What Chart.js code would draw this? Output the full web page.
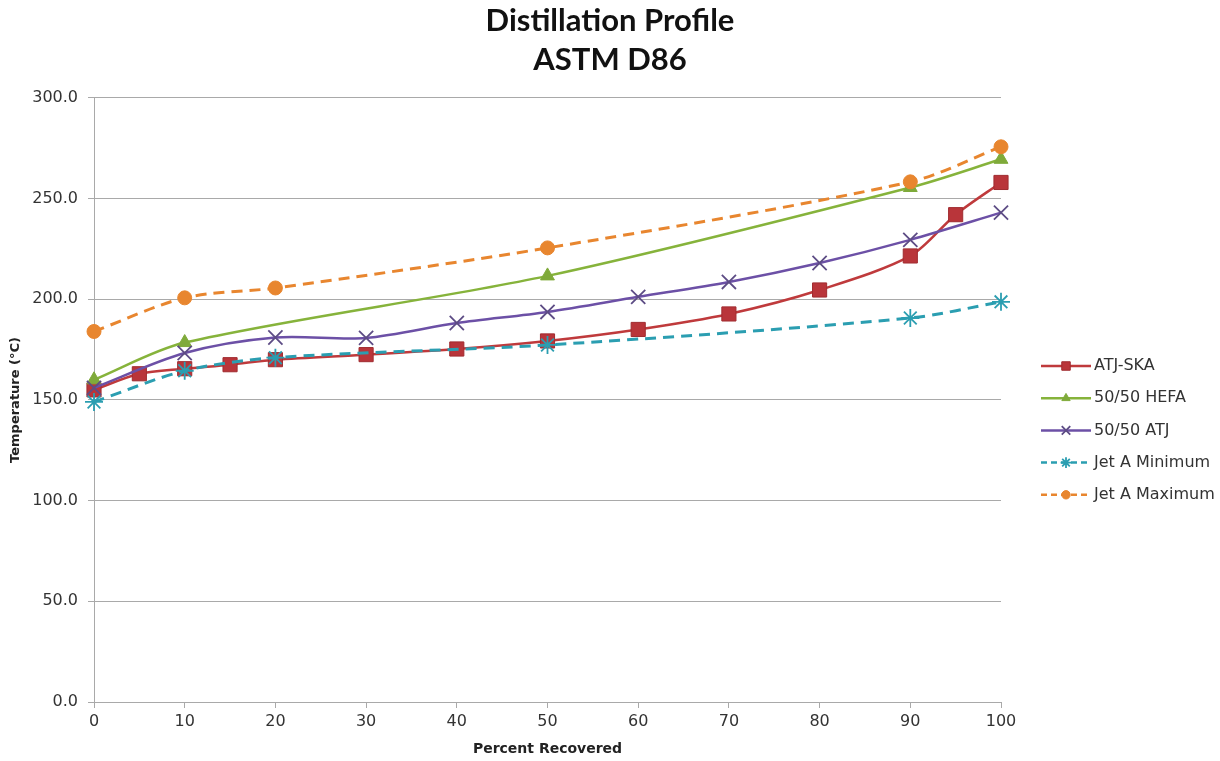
<!DOCTYPE html>
<html>
<head>
<meta charset="utf-8">
<script src="https://cdn.jsdelivr.net/npm/chart.js@4.4.1/dist/chart.umd.min.js"></script>
<style>
  html, body { margin: 0; padding: 0; background: #ffffff; }
  #wrap { width: 1220px; height: 761px; position: relative; }
</style>
</head>
<body>
<div id="wrap"><canvas id="c" width="1220" height="761"></canvas></div>
<script>
// Percent recovered (x) and temperature in °C (y) for each fuel
const pctSka   = [0, 5, 10, 15, 20, 30, 40, 50, 60, 70, 80, 90, 95, 100];
const tempSka  = [155, 163, 165.5, 167.5, 170, 172.5, 175.3, 179.3, 185, 192.7, 204.6, 221.5, 242, 258];

const pctHefa  = [0, 10, 50, 90, 100];
const tempHefa = [160, 178.5, 211.6, 255.5, 269.5];

const pctAtj   = [0, 10, 20, 30, 40, 50, 60, 70, 80, 90, 100];
const tempAtj  = [156, 173.3, 181, 180.8, 188.2, 193.7, 201.2, 208.6, 218, 229.5, 243];

const pctJet   = [0, 10, 20, 50, 90, 100];
const jetMin   = [149, 164.5, 171, 177.3, 190.7, 198.7];
const jetMax   = [184, 200.7, 205.6, 225.5, 258.3, 275.7];

const seriesNames = ['ATJ-SKA', '50/50 HEFA', '50/50 ATJ', 'Jet A Minimum', 'Jet A Maximum'];
const yTickValues = [0, 50, 100, 150, 200, 250, 300];
const xTickValues = [0, 10, 20, 30, 40, 50, 60, 70, 80, 90, 100];

const toPoints = (xs, ys) => xs.map((x, i) => ({ x: x, y: ys[i] }));

const FONT = "'DejaVu Sans', sans-serif";
const GRID = '#a9a9a9';

// Legend: line sample with marker, then the series name
const sideLegend = {
  id: 'sideLegend',
  afterDraw(chart) {
    const ctx = chart.ctx;
    const x0 = chart.chartArea.right + 40;
    const y0 = 366;
    const step = 32.2;
    chart.data.datasets.forEach((ds, i) => {
      const y = y0 + i * step;
      ctx.save();
      ctx.strokeStyle = ds.borderColor;
      ctx.lineWidth = 2.5;
      ctx.setLineDash(ds.borderDash && ds.borderDash.length ? [6, 4] : []);
      ctx.beginPath();
      ctx.moveTo(x0, y);
      ctx.lineTo(x0 + 50, y);
      ctx.stroke();
      ctx.setLineDash([]);
      ctx.fillStyle = ds.pointBackgroundColor;
      ctx.strokeStyle = ds.pointBorderColor;
      ctx.lineWidth = ds.pointBorderWidth;
      Chart.helpers.drawPoint(ctx, { pointStyle: ds.pointStyle, radius: ds.pointRadius * 0.6, rotation: 0, borderWidth: ds.pointBorderWidth }, x0 + 25, y);
      ctx.fillStyle = '#333333';
      ctx.font = "16px " + FONT;
      ctx.textBaseline = 'middle';
      ctx.textAlign = 'left';
      ctx.fillText(ds.label, x0 + 53, y);
      ctx.restore();
    });
  }
};

new Chart(document.getElementById('c'), {
  type: 'line',
  data: {
    datasets: [
      {
        label: seriesNames[0],
        data: toPoints(pctSka, tempSka),
        borderColor: '#bf3a3c', borderWidth: 2.5,
        pointStyle: 'rect', pointRadius: 10,
        pointBackgroundColor: '#b9353a', pointBorderColor: '#a02c30', pointBorderWidth: 1,
        tension: 0.3, order: 5
      },
      {
        label: seriesNames[1],
        data: toPoints(pctHefa, tempHefa),
        borderColor: '#86b33b', borderWidth: 2.5,
        pointStyle: 'triangle', pointRadius: 8,
        pointBackgroundColor: '#7faa3a', pointBorderColor: '#7faa3a', pointBorderWidth: 1,
        tension: 0.3, order: 4
      },
      {
        label: seriesNames[2],
        data: toPoints(pctAtj, tempAtj),
        borderColor: '#6c50a6', borderWidth: 2.5,
        pointStyle: 'crossRot', pointRadius: 10,
        pointBackgroundColor: '#5d4c85', pointBorderColor: '#5d4c85', pointBorderWidth: 1.8,
        tension: 0.3, order: 3
      },
      {
        label: seriesNames[3],
        data: toPoints(pctJet, jetMin),
        borderColor: '#2b9eb1', borderWidth: 3, borderDash: [11, 7],
        pointStyle: 'star', pointRadius: 9,
        pointBackgroundColor: '#2b9eb1', pointBorderColor: '#2b9eb1', pointBorderWidth: 1.8,
        tension: 0.3, order: 2
      },
      {
        label: seriesNames[4],
        data: toPoints(pctJet, jetMax),
        borderColor: '#e8862f', borderWidth: 3, borderDash: [11, 7],
        pointStyle: 'circle', pointRadius: 7,
        pointBackgroundColor: '#e8862f', pointBorderColor: '#e8862f', pointBorderWidth: 1,
        tension: 0.3, order: 1
      }
    ]
  },
  options: {
    responsive: false,
    animation: false,
    events: [],
    clip: false,
    layout: { padding: { left: 0, right: 0, top: 0, bottom: 0 } },
    plugins: {
      legend: { display: false },
      tooltip: { enabled: false },
      title: {
        display: true,
        text: ['Distillation Profile', 'ASTM D86'],
        color: '#111111',
        font: { family: "'Lato', sans-serif", size: 31, weight: 'bold', lineHeight: 1.24 },
        padding: { top: 2, bottom: 19 }
      }
    },
    scales: {
      x: {
        type: 'linear', min: 0, max: 100,
        afterBuildTicks: s => { s.ticks = xTickValues.map(v => ({ value: v })); },
        ticks: { color: '#333333', font: { family: FONT, size: 16 }, padding: 4, maxRotation: 0 },
        grid: { drawOnChartArea: false, drawTicks: true, tickLength: 6, color: GRID },
        border: { color: GRID },
        title: { display: true, text: 'Percent Recovered', color: '#222222',
                 font: { family: FONT, size: 14, weight: 'bold' }, padding: { top: 4, bottom: 3 } },
        afterFit: s => { s.height = 59; }
      },
      y: {
        type: 'linear', min: 0, max: 300,
        afterBuildTicks: s => { s.ticks = yTickValues.map(v => ({ value: v })); },
        ticks: { color: '#333333', font: { family: FONT, size: 16 }, padding: 10, callback: v => Number(v).toFixed(1) },
        grid: { color: GRID, tickLength: 6, drawTicks: true },
        border: { color: GRID },
        title: { display: true, text: 'Temperature (°C)', color: '#222222',
                 font: { family: FONT, size: 13, weight: 'bold' }, padding: { top: 8, bottom: 0 } },
        afterFit: s => { s.width = 94; }
      },
      side: {
        type: 'linear', position: 'right', display: true,
        ticks: { display: false },
        grid: { display: false, drawTicks: false },
        border: { display: false },
        afterFit: s => { s.width = 219; }
      }
    }
  },
  plugins: [sideLegend]
});
</script>
</body>
</html>
